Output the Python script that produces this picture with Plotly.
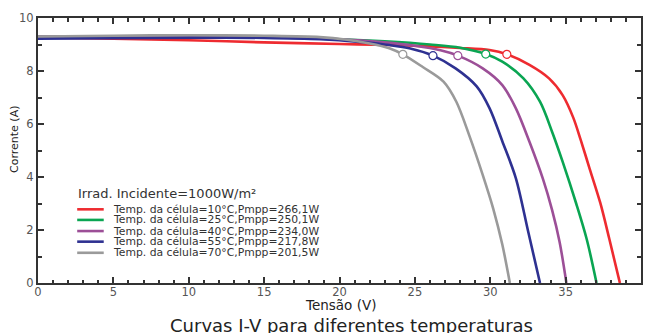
import plotly.graph_objects as go

# ---- data ----
temps = ["10", "25", "40", "55", "70"]
pmpp = ["266,1", "250,1", "234,0", "217,8", "201,5"]
colors = ["#ee2b30", "#0aa552", "#9c4f97", "#2e3191", "#9a9a9a"]

v_10 = [0, 5, 10, 15, 20, 23.3, 26, 28, 29.95, 31.1, 32.6, 33.9, 34.8, 35.5, 36.0, 36.6, 37.3, 37.9, 38.6]
i_10 = [9.27, 9.22, 9.16, 9.08, 9.02, 8.98, 8.93, 8.87, 8.79, 8.63, 8.23, 7.72, 7.09, 6.25, 5.4, 4.3, 3.02, 1.66, 0]

v_25 = [0, 5, 10, 15, 20, 23, 26, 28, 29.7, 30.8, 32.2, 33.3, 34.1, 34.8, 35.7, 36.4, 37.05]
i_25 = [9.3, 9.3, 9.3, 9.28, 9.2, 9.12, 9.0, 8.88, 8.64, 8.35, 7.72, 6.84, 5.71, 4.58, 3.0, 1.65, 0]

v_40 = [0, 5, 10, 15, 20, 23, 25, 26.7, 27.85, 29.5, 30.8, 31.7, 32.6, 33.5, 34.1, 34.6, 35.05]
i_40 = [9.3, 9.3, 9.3, 9.28, 9.2, 9.08, 8.95, 8.78, 8.58, 8.1, 7.47, 6.59, 5.33, 3.92, 2.76, 1.55, 0]

v_55 = [0, 5, 10, 15, 18.7, 21.3, 23.3, 24.7, 26.2, 27.7, 29.1, 29.95, 30.8, 31.7, 32.5, 33.3]
i_55 = [9.22, 9.24, 9.26, 9.25, 9.2, 9.1, 8.98, 8.85, 8.58, 8.1, 7.42, 6.6, 5.35, 3.95, 1.98, 0]

v_70 = [0, 5, 10, 15, 18.7, 20.5, 22, 23.3, 24.2, 25.5, 26.9, 27.75, 28.6, 29.5, 30.2, 30.8, 31.3]
i_70 = [9.3, 9.33, 9.35, 9.33, 9.28, 9.18, 9.04, 8.86, 8.63, 8.16, 7.6, 6.84, 5.58, 4.08, 2.8, 1.45, 0]

mpp_v = [31.1, 29.7, 27.85, 26.2, 24.2]
mpp_i = [8.63, 8.64, 8.58, 8.58, 8.63]

x_ticks = [0, 5, 10, 15, 20, 25, 30, 35, 40]
y_ticks = [0, 2, 4, 6, 8, 10]

legend_title = "Irrad. Incidente=1000W/m²"
x_title = "Tensão (V)"
y_title = "Corrente (A)"
chart_title = "Curvas I-V para diferentes temperaturas"

curves = [(v_10, i_10), (v_25, i_25), (v_40, i_40), (v_55, i_55), (v_70, i_70)]

FONT = "DejaVu Sans"
fig = go.Figure()

for k, (vv, ii) in enumerate(curves):
    fig.add_trace(go.Scatter(
        x=vv, y=ii, mode="lines",
        line=dict(color=colors[k], width=2.6, shape="spline", smoothing=0.9),
        showlegend=False, hoverinfo="skip"))

for k in range(len(mpp_v)):
    fig.add_trace(go.Scatter(
        x=[mpp_v[k]], y=[mpp_i[k]], mode="markers",
        marker=dict(symbol="circle", size=8, color="white",
                    line=dict(color=colors[k], width=1.2)),
        showlegend=False, hoverinfo="skip"))

# manual legend (paper coords)
shapes = []
annotations = []
row_y = [0.278, 0.238, 0.196, 0.156, 0.114]
for k in range(len(temps)):
    shapes.append(dict(type="line", xref="paper", yref="paper",
                       x0=0.065, x1=0.109, y0=row_y[k], y1=row_y[k],
                       line=dict(color=colors[k], width=2.6)))
    annotations.append(dict(xref="paper", yref="paper", x=0.121, y=row_y[k],
                            xanchor="left", yanchor="middle", showarrow=False,
                            text=f"Temp. da célula={temps[k]}°C,Pmpp={pmpp[k]}W",
                            font=dict(family=FONT, size=10.8, color="#333333")))
annotations.append(dict(xref="paper", yref="paper", x=0.063, y=0.336,
                        xanchor="left", yanchor="middle", showarrow=False,
                        text=legend_title,
                        font=dict(family=FONT, size=13, color="#333333")))
annotations.append(dict(xref="paper", yref="paper", x=0.502, y=-0.083,
                        xanchor="center", yanchor="middle", showarrow=False,
                        text=x_title, font=dict(family=FONT, size=13.5, color="#222222")))
annotations.append(dict(xref="paper", yref="paper", x=-0.038, y=0.54,
                        xanchor="center", yanchor="middle", showarrow=False,
                        textangle=-90,
                        text=y_title, font=dict(family=FONT, size=11, color="#222222")))
annotations.append(dict(xref="paper", yref="paper", x=0.52, y=-0.162,
                        xanchor="center", yanchor="middle", showarrow=False,
                        text=chart_title, font=dict(family=FONT, size=18, color="#222222")))

axis_common = dict(
    showgrid=False, zeroline=False, showline=True, linecolor="#333333", linewidth=2,
    mirror="ticks", ticks="inside", tickcolor="#333333", tickwidth=1.5, ticklen=6,
    tickfont=dict(family=FONT, size=11.5, color="#555555"), automargin=False,
)

fig.update_xaxes(range=[0, 40], tickvals=x_ticks, ticktext=[str(t) for t in x_ticks],
                 minor=dict(ticks="inside", dtick=1, ticklen=3.5, tickcolor="#333333", tickwidth=1.5),
                 ticklabelstandoff=-3,
                 **axis_common)
fig.update_yaxes(range=[0, 10], tickvals=y_ticks, ticktext=[str(t) for t in y_ticks],
                 minor=dict(ticks="inside", dtick=1, ticklen=4, tickcolor="#333333", tickwidth=1.5),
                 **axis_common)

fig.update_layout(
    width=647, height=333,
    margin=dict(l=38, r=5.5, t=18, b=50, pad=0),
    paper_bgcolor="white", plot_bgcolor="white",
    shapes=shapes, annotations=annotations,
    font=dict(family=FONT),
)

fig.write_html("out.html", config={"displayModeBar": False},
               post_script="document.body.style.margin='0';document.body.style.padding='0';")
